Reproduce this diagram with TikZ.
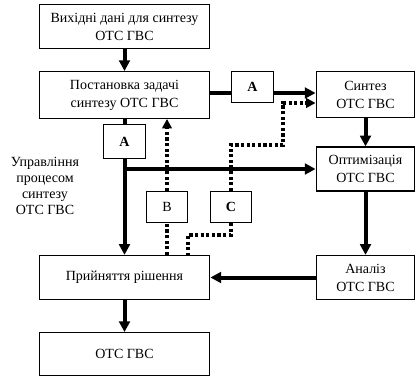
\documentclass[tikz,border=0pt]{standalone}
\usepackage{fontspec}
\setmainfont{Liberation Serif}
\usetikzlibrary{arrows.meta}
\tikzset{
  blok/.style={draw,line width=0.9pt,minimum width=128pt,minimum height=33pt,
    inner sep=1pt,align=center,font=\fontsize{10.5pt}{13.5pt}\selectfont},
  mblok/.style={blok,minimum width=74pt},
  lit/.style={blok,minimum width=31pt,minimum height=23pt},
  tovst/.style={line width=3pt},
  strl/.style={tovst,-{Triangle[length=8pt,width=8pt]}},
  pnkt/.style={line width=2.6pt,dash pattern=on 2.4pt off 1.8pt},
  pstrl/.style={pnkt,-{Triangle[length=7pt,width=7pt]}}
}
\begin{document}
\begin{tikzpicture}[x=0.75pt,y=-0.75pt]
\useasboundingbox (0,0) rectangle (416,377);
% bloky
\node[blok] (vkh) at (124.5,26.5) {Вихідні дані для синтезу\\ОТС ГВС};
\node[blok,minimum height=35pt] (post) at (124.5,95) {Постановка задачі\\синтезу ОТС ГВС};
\node[blok] (prii) at (124.5,277.5) {Прийняття рішення};
\node[blok,minimum height=32pt] (otc) at (124.5,354) {ОТС ГВС};
\node[mblok,minimum height=35pt] (sint) at (365.5,94.5) {Синтез\\ОТС ГВС};
\node[mblok] (opt) at (365.5,169) {Оптимізація\\ОТС ГВС};
\node[mblok] (anal) at (365.5,277.5) {Аналіз\\ОТС ГВС};
% literny
\node[lit] (A1) at (252.5,87) {\textbf{A}};
\node[lit,minimum height=25pt] (A2) at (124.5,141.5) {\textbf{A}};
\node[lit] (B) at (167,207) {B};
\node[lit] (C) at (231,207) {\textbf{C}};
\node[align=center,font=\fontsize{10.5pt}{12pt}\selectfont] (upr) at (45,186)
  {Управління\\процесом\\синтезу\\ОТС ГВС};
\coordinate (ay) at (0,93);
\coordinate (cy) at (0,103);
\coordinate (c1) at (283,145);
\coordinate (c2) at (188,235);
% zviazky
\draw[strl] (vkh) -- (post);
\draw[tovst] (post.east |- ay) -- (A1.west |- ay);
\draw[strl] (A1.east |- ay) -- (sint.west |- ay);
\draw[strl] (sint) -- (opt);
\draw[strl] (opt) -- (anal);
\draw[strl] (anal) -- (prii);
\draw[strl] (prii) -- (otc);
\draw[tovst] (post) -- (A2);
\draw[strl] (A2) -- (prii);
\draw[strl] (A2.south |- opt.west) -- (opt.west);
\draw[pnkt] (prii.north -| B) -- (B);
\draw[pstrl] (B) -- (B.north |- post.south);
\draw[pstrl] (C) |- (c1) |- (sint.west |- cy);
\draw[pnkt] (C) |- (c2) -- (c2 |- prii.north);
\end{tikzpicture}
\end{document}
